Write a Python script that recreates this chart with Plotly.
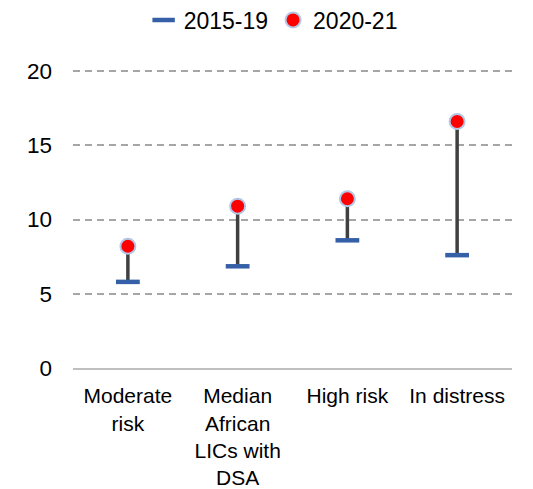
import plotly.graph_objects as go

categories = ["Moderate<br>risk", "Median<br>African<br>LICs with<br>DSA", "High risk", "In distress"]
val_2015_19 = [5.8, 6.85, 8.6, 7.6]
val_2020_21 = [8.2, 10.9, 11.4, 16.6]
y_ticks = [0, 5, 10, 15, 20]

FONT = "Liberation Sans, Arial, sans-serif"
FS = 22.5
FSX = 21

# the page body has an 8px default margin, so the figure is made 8px smaller
W, H = 525, 481

fig = go.Figure()

# connector lines
cx, cy = [], []
for c, lo, hi in zip(categories, val_2015_19, val_2020_21):
    cx += [c, c, None]
    cy += [lo, hi, None]
fig.add_trace(go.Scatter(x=cx, y=cy, mode="lines", line=dict(color="#404040", width=3.5),
                         showlegend=False, hoverinfo="skip"))

fig.add_trace(go.Scatter(x=categories, y=val_2015_19, mode="markers", name="2015-19",
                         marker=dict(symbol="line-ew", size=17,
                                     line=dict(color="#3560A8", width=4.5))))
fig.add_trace(go.Scatter(x=categories, y=val_2020_21, mode="markers", name="2020-21",
                         marker=dict(symbol="circle", size=15, color="#FF0000",
                                     line=dict(color="#B4C7E7", width=2))))

fig.update_layout(
    width=W, height=H,
    margin=dict(l=65, r=21, t=62, b=121, autoexpand=False),
    paper_bgcolor="white", plot_bgcolor="white",
    font=dict(family=FONT, size=FS, color="#000000"),
    legend=dict(orientation="h", xref="container", yref="container",
                x=0.505, y=1 - 12 / H, xanchor="center", yanchor="middle",
                itemwidth=30, font=dict(size=23), traceorder="normal"),
    showlegend=True,
)
fig.update_xaxes(type="category", range=[-0.5, 3.5], showgrid=False, showline=True,
                 linecolor="#BFBFBF", linewidth=2, ticks="", tickfont=dict(size=FSX),
                 ticklabelstandoff=8, automargin=False)
fig.update_yaxes(range=[0, 20.07], tickvals=y_ticks, showgrid=True, gridcolor="#A6A6A6",
                 griddash="7px,5px", gridwidth=1.5, zeroline=False, ticks="",
                 tickfont=dict(size=FS), ticklabelstandoff=20, showline=False,
                 automargin=False)

fig.write_html("out.html")
